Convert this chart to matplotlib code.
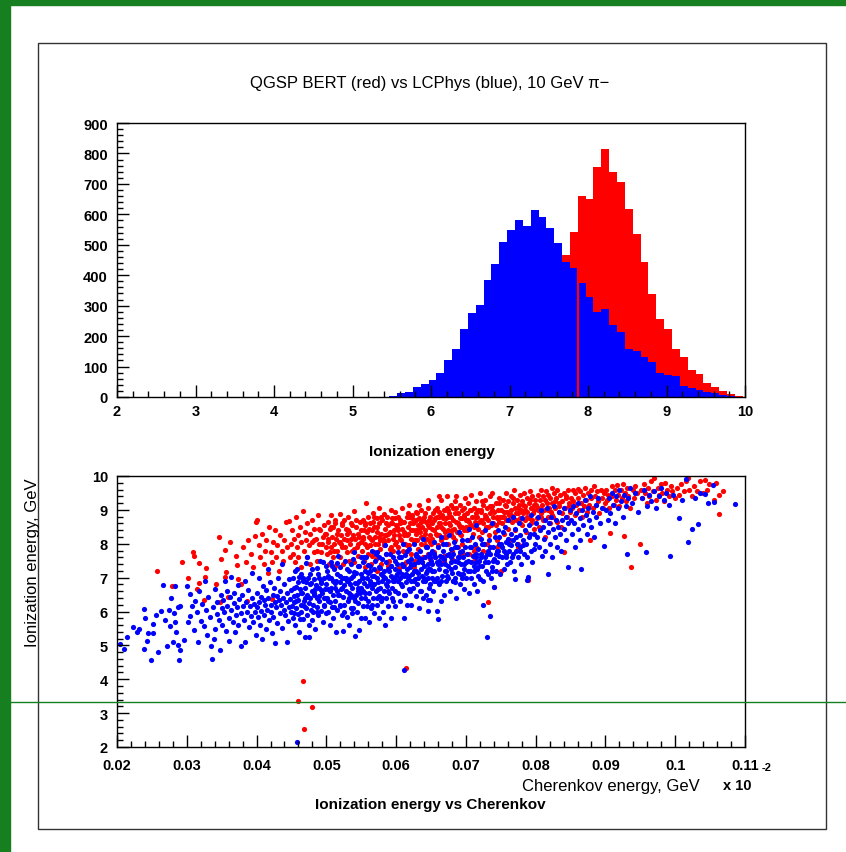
import numpy as np
import matplotlib
matplotlib.use('Agg')
import matplotlib.pyplot as plt
from matplotlib.ticker import MultipleLocator
from matplotlib.patches import Rectangle
from matplotlib.lines import Line2D

plt.rcParams['font.family'] = ['Liberation Sans', 'DejaVu Sans']

# ---- histogram data (bin width 0.1, first edge below) ----
bin_start = 1.97
bin_width = 0.1

blue_counts = [
    0, 0, 0, 0, 0, 0, 0, 0, 0, 0,
    0, 1, 0, 0, 1, 0, 0, 0, 1, 0,
    0, 0, 1, 0, 0, 1, 0, 1, 0, 1,
    0, 1, 0, 0, 1, 2, 13, 17, 32, 43,
    57, 78, 121, 159, 222, 277, 303, 384, 437, 508,
    547, 581, 563, 614, 592, 556, 506, 442, 423, 373,
    327, 279, 288, 238, 215, 158, 150, 132, 114, 78,
    73, 69, 36, 28, 23, 18, 12, 7, 3, 0,
]
red_counts = [
    0, 0, 0, 1, 0, 1, 1, 0, 1, 0,
    0, 0, 0, 0, 0, 0, 0, 0, 0, 0,
    0, 0, 0, 0, 0, 0, 0, 0, 0, 0,
    0, 0, 0, 0, 0, 0, 0, 0, 0, 0,
    0, 1, 2, 3, 5, 9, 14, 22, 34, 50,
    72, 100, 140, 190, 250, 320, 400, 466, 541, 661,
    651, 754, 815, 740, 705, 618, 535, 442, 338, 256,
    223, 158, 132, 90, 76, 46, 32, 20, 10, 4,
]
# stray red edge line seen inside the blue area
red_edge_x = 7.87
red_edge_top = 423

# ---- scatter data: pairs (cherenkov x 1e-4, ionization x 1e-2) ----
red_xy = [
    258, 721, 279, 676, 293, 747,
    302, 698, 309, 777, 310, 764, 318, 744, 315, 665, 318, 684, 324, 633, 326, 702,
    327, 728, 346, 820, 342, 682, 349, 755,
    355, 782, 355, 702, 356, 717, 362, 806, 348, 628, 359, 643, 371, 764, 372, 737,
    374, 697, 399, 863, 398, 824, 380, 790, 385, 745, 388, 812, 392, 770, 395, 730,
    386, 630, 378, 680,
    400, 870, 403, 795, 405, 760, 408, 830, 410, 740, 412, 780, 414, 810, 416, 715,
    418, 850, 420, 775, 422, 745, 424, 805, 426, 840, 428, 760, 430, 795, 432, 720,
    434, 825, 436, 780, 438, 750, 440, 810, 442, 865, 444, 790, 446, 868, 448, 760,
    422, 637,
    450, 800, 451, 840, 452, 770, 454, 815, 455, 745, 456, 880, 458, 790, 459, 825,
    460, 760, 462, 850, 463, 805, 464, 730, 466, 697, 467, 896, 468, 780, 469, 835,
    471, 810, 472, 760, 473, 860, 475, 795, 476, 740, 477, 830, 479, 805, 480, 870,
    482, 775, 483, 845, 485, 815, 486, 750, 488, 885, 489, 800, 491, 840, 493, 775,
    495, 820, 497, 855, 499, 790,
    500, 830, 501, 770, 502, 865, 503, 805, 504, 740, 505, 845, 506, 790, 507, 886,
    508, 820, 509, 760, 510, 850, 511, 800, 512, 735, 513, 870, 514, 815, 515, 780,
    517, 840, 518, 805, 519, 889, 520, 760, 521, 825, 522, 855, 523, 790, 524, 740,
    525, 870, 526, 815, 528, 845, 529, 775, 530, 810, 531, 880, 532, 750, 533, 835,
    534, 800, 536, 860, 537, 780, 538, 825, 539, 745, 540, 896, 541, 815, 542, 850,
    544, 790, 545, 830, 546, 765, 548, 865, 549, 805,
    550, 840, 551, 780, 552, 870, 553, 815, 554, 750, 555, 855, 556, 800, 557, 919,
    558, 835, 559, 770, 560, 880, 561, 820, 562, 795, 563, 860, 564, 740, 565, 840,
    566, 810, 567, 890, 568, 775, 569, 850, 570, 820, 571, 755, 572, 875, 573, 835,
    574, 800, 575, 905, 576, 860, 577, 785, 578, 830, 579, 740, 580, 870, 581, 815,
    582, 889, 583, 795, 584, 845, 585, 770, 586, 825, 587, 880, 588, 810, 589, 855,
    590, 750, 591, 835, 592, 790, 593, 900, 594, 860, 595, 815, 596, 780, 597, 840,
    598, 875, 599, 894, 556, 730, 572, 720, 588, 735, 600, 805, 565, 763,
    601, 850, 602, 790, 603, 880, 604, 825, 605, 760, 606, 870, 607, 810, 608, 845,
    609, 905, 610, 780, 611, 835, 612, 865, 613, 800, 614, 745, 615, 880, 616, 825,
    617, 850, 618, 795, 619, 914, 620, 860, 621, 815, 622, 770, 623, 885, 624, 840,
    625, 805, 626, 865, 627, 750, 628, 830, 629, 895, 630, 810, 631, 855, 632, 785,
    633, 875, 634, 835, 635, 800, 636, 900, 637, 850, 638, 760, 639, 820, 640, 880,
    641, 840, 642, 795, 643, 865, 644, 815, 645, 905, 646, 770, 647, 850, 648, 825,
    649, 880, 650, 800, 612, 738, 625, 730, 637, 745, 648, 755, 604, 727, 617, 890,
    628, 870, 633, 915, 642, 890, 646, 930,
    651, 860, 652, 815, 653, 890, 654, 840, 655, 775, 656, 875, 657, 830, 658, 905,
    659, 850, 660, 795, 661, 880, 662, 825, 663, 860, 664, 930, 665, 810, 666, 885,
    667, 845, 668, 765, 669, 900, 670, 860, 671, 820, 672, 875, 673, 940, 674, 840,
    675, 800, 676, 890, 677, 855, 678, 915, 679, 830, 680, 780, 681, 870, 682, 905,
    683, 845, 684, 810, 685, 925, 686, 865, 687, 835, 688, 890, 689, 790, 690, 855,
    691, 915, 692, 875, 693, 825, 694, 900, 695, 850, 696, 770, 697, 885, 698, 840,
    699, 935, 700, 870, 656, 760, 668, 748, 680, 755, 692, 770, 662, 940, 686, 940,
    674, 900, 659, 880, 695, 800, 670, 900,
    701, 890, 702, 840, 703, 920, 704, 865, 705, 810, 706, 900, 707, 855, 708, 945,
    709, 880, 710, 830, 711, 748, 712, 905, 713, 865, 714, 790, 715, 925, 716, 880,
    717, 845, 718, 900, 719, 820, 720, 950, 721, 870, 722, 895, 723, 835, 724, 915,
    725, 860, 726, 800, 727, 885, 728, 930, 729, 850, 730, 905, 731, 627, 732, 870,
    733, 825, 734, 940, 735, 890, 736, 855, 737, 949, 738, 910, 739, 860, 740, 671,
    741, 895, 742, 835, 743, 920, 744, 875, 745, 810, 746, 900, 747, 865, 748, 935,
    749, 880, 750, 719, 712, 780, 725, 780, 744, 790, 705, 770, 730, 800,
    751, 900, 752, 860, 753, 930, 754, 880, 755, 830, 756, 915, 757, 870, 758, 950,
    759, 895, 760, 845, 761, 925, 762, 885, 763, 810, 764, 940, 765, 900, 766, 865,
    767, 920, 768, 880, 769, 960, 770, 840, 771, 905, 772, 870, 773, 930, 774, 890,
    775, 800, 776, 915, 777, 875, 778, 945, 779, 900, 780, 855, 781, 925, 782, 890,
    783, 950, 784, 870, 785, 910, 786, 835, 787, 935, 788, 895, 789, 692, 790, 920,
    791, 875, 792, 955, 793, 905, 794, 860, 795, 940, 796, 890, 797, 915, 798, 845,
    799, 930, 775, 790,
    801, 915, 802, 875, 803, 945, 804, 900, 805, 850, 806, 930, 807, 890, 808, 960,
    809, 915, 810, 870, 811, 940, 812, 900, 813, 820, 815, 955, 816, 920, 817, 880,
    818, 945, 819, 905, 820, 860, 821, 935, 822, 895, 823, 965, 824, 920, 825, 880,
    826, 950, 828, 905, 829, 935, 830, 865, 831, 960, 833, 920, 834, 895, 835, 945,
    836, 850, 838, 925, 840, 776, 841, 950, 842, 905, 844, 940, 845, 880, 847, 960,
    848, 920, 849, 895,
    851, 935, 852, 905, 853, 960, 854, 925, 856, 885, 857, 950, 858, 915, 860, 962,
    861, 935, 862, 900, 864, 955, 865, 920, 866, 880, 868, 945, 869, 910, 871, 965,
    872, 930, 873, 895, 875, 950, 876, 915, 878, 812, 879, 960, 880, 935, 882, 905,
    883, 970, 885, 940, 886, 915, 888, 955, 890, 925, 891, 890, 893, 960, 895, 935,
    896, 905, 898, 950, 899, 920,
    901, 960, 902, 930, 904, 945, 905, 905, 907, 833, 909, 970, 910, 940, 912, 915,
    913, 960, 915, 930, 917, 974, 918, 945, 920, 910, 922, 960, 924, 935, 925, 975,
    927, 822, 928, 950, 930, 925, 931, 965, 933, 940, 935, 905, 937, 732, 939, 960,
    941, 935, 943, 970, 945, 950, 949, 798,
    951, 960, 953, 935, 955, 975, 957, 950, 959, 920, 961, 965, 963, 940, 966, 985,
    968, 955, 970, 994, 972, 930, 975, 965, 977, 945, 979, 975, 981, 950, 984, 925,
    986, 979, 988, 960, 991, 940, 994, 970, 996, 955, 999, 935,
    1002, 965, 1005, 945, 1008, 975, 1012, 955, 1015, 985, 1019, 993, 1020, 960,
    1024, 940, 1027, 970, 1031, 955, 1036, 985, 1040, 950, 1043, 988, 1046, 960,
    1049, 975, 1063, 887, 1063, 943, 1068, 956, 1058, 980, 1055, 930,
    467, 396, 459, 335, 480, 318, 468, 253, 614, 432,
]
# extra points in the dense red core
red_core_xy = [
    482, 810, 486, 780, 490, 845, 494, 800, 498, 830,
    503, 815, 507, 850, 511, 780, 515, 830, 519, 805, 523, 860, 527, 790, 531, 840,
    535, 815, 539, 785, 543, 870, 547, 820, 505, 775, 513, 860, 521, 800, 529, 830,
    537, 855, 545, 800,
    552, 820, 555, 860, 558, 790, 561, 845, 564, 815, 567, 865, 570, 800, 573, 850,
    576, 820, 579, 880, 582, 805, 585, 860, 588, 830, 591, 785, 594, 875, 597, 825,
    600, 855, 554, 840, 562, 795, 569, 880, 577, 810, 584, 825, 592, 860, 599, 800,
    603, 840, 606, 815, 609, 865, 612, 825, 615, 795, 618, 880, 621, 840, 624, 860,
    627, 810, 630, 890, 633, 845, 636, 820, 639, 870, 642, 830, 645, 855, 648, 805,
    605, 860, 611, 800, 617, 830, 623, 875, 629, 840, 635, 865, 641, 810, 647, 870,
    652, 845, 655, 870, 658, 825, 661, 895, 664, 850, 667, 875, 670, 835, 673, 905,
    676, 860, 679, 880, 682, 820, 685, 890, 688, 860, 691, 830, 694, 875, 697, 905,
    700, 850, 656, 900, 662, 860, 668, 820, 674, 880, 680, 840, 686, 905, 692, 850,
    698, 880,
    703, 870, 707, 900, 711, 850, 715, 890, 719, 865, 723, 925, 727, 875, 731, 850,
    735, 910, 739, 880, 743, 855, 747, 920, 705, 850, 713, 880, 721, 900, 729, 880,
    737, 900, 745, 880,
    752, 880, 757, 910, 762, 870, 767, 935, 772, 890, 777, 860, 782, 915, 787, 880,
    792, 930, 797, 900, 755, 895, 765, 885, 775, 905, 785, 900, 795, 870,
    803, 905, 808, 880, 813, 930, 818, 900, 823, 885, 828, 925, 833, 910, 838, 890,
    843, 935, 848, 910,
]

blue_xy = [
    210, 490, 214, 526, 223, 554, 228, 539, 238, 608, 240, 580, 238, 488, 245, 536,
    249, 457, 231, 547, 205, 505, 243, 512,
    251, 563, 252, 536, 259, 480, 266, 678, 269, 575, 271, 497, 274, 603, 276, 558,
    280, 509, 281, 596, 283, 675, 283, 570, 284, 539, 288, 500, 288, 613, 289, 457,
    290, 487, 291, 617, 296, 517, 263, 602, 256, 590, 278, 640,
    301, 676, 302, 568, 304, 652, 305, 588, 307, 617, 310, 545, 312, 630, 314, 598,
    316, 509, 318, 660, 320, 571, 322, 621, 324, 556, 326, 690, 327, 605, 329, 530,
    331, 642, 333, 583, 335, 497, 336, 460, 338, 612, 340, 665, 341, 548, 343, 594,
    344, 628, 346, 575, 347, 485, 349, 650, 350, 610, 339, 520,
    351, 560, 352, 633, 354, 598, 355, 690, 356, 542, 357, 617, 358, 660, 360, 580,
    361, 512, 362, 644, 363, 603, 364, 702, 366, 570, 367, 625, 368, 655, 369, 540,
    370, 590, 372, 612, 373, 678, 374, 560, 375, 636, 377, 498, 378, 595, 379, 648,
    380, 617, 382, 575, 383, 690, 384, 510, 385, 628, 386, 600, 388, 663, 389, 553,
    390, 615, 392, 587, 393, 640, 394, 715, 395, 568, 397, 622, 398, 600, 399, 530,
    400, 612, 401, 655, 402, 583, 403, 700, 404, 628, 405, 560, 406, 642, 407, 601,
    408, 520, 409, 675, 410, 590, 411, 633, 412, 618, 413, 548, 414, 662, 415, 605,
    416, 725, 417, 640, 418, 575, 419, 688, 420, 620, 421, 600, 422, 537, 423, 650,
    424, 585, 425, 670, 426, 627, 427, 508, 428, 612, 429, 645, 430, 565, 431, 700,
    432, 633, 433, 596, 434, 660, 435, 618, 436, 740, 437, 552, 438, 640, 439, 605,
    440, 680, 441, 590, 442, 628, 443, 511, 444, 655, 445, 572, 446, 612, 447, 695,
    448, 638, 449, 600,
    450, 662, 451, 615, 452, 700, 452, 580, 453, 645, 454, 628, 455, 720, 455, 560,
    456, 673, 457, 610, 458, 650, 459, 592, 460, 688, 460, 635, 461, 540, 462, 667,
    463, 620, 464, 710, 464, 598, 465, 655, 466, 578, 467, 690, 468, 632, 469, 525,
    470, 668, 471, 610, 471, 742, 472, 648, 473, 590, 474, 700, 475, 625, 475, 560,
    476, 680, 477, 640, 478, 603, 479, 725, 480, 660, 480, 575, 481, 620, 482, 695,
    483, 650, 484, 547, 485, 678, 486, 612, 487, 640, 488, 710, 488, 590, 489, 668,
    490, 630, 491, 750, 492, 602, 493, 685, 494, 655, 495, 570, 496, 640, 497, 700,
    497, 615, 498, 665, 499, 595, 475, 525,
    500, 680, 501, 640, 501, 720, 502, 598, 503, 665, 504, 700, 505, 628, 505, 560,
    506, 745, 507, 670, 508, 612, 509, 690, 510, 650, 510, 580, 511, 725, 512, 632,
    513, 685, 514, 540, 515, 660, 516, 710, 516, 605, 517, 765, 518, 648, 519, 688,
    520, 620, 520, 730, 521, 665, 522, 590, 523, 700, 524, 642, 524, 543, 525, 678,
    526, 618, 527, 750, 528, 660, 528, 700, 529, 585, 530, 690, 531, 632, 532, 720,
    533, 655, 533, 560, 534, 680, 535, 610, 536, 740, 537, 668, 537, 595, 538, 705,
    539, 640, 540, 775, 541, 685, 541, 528, 542, 650, 543, 715, 544, 600, 545, 670,
    545, 735, 546, 625, 547, 690, 547, 544, 548, 655, 549, 710, 549, 580, 550, 640,
    538, 610,
    551, 700, 552, 660, 552, 745, 553, 615, 554, 685, 555, 720, 555, 640, 556, 580,
    557, 760, 558, 675, 558, 700, 559, 630, 560, 715, 561, 655, 561, 568, 562, 735,
    563, 690, 564, 610, 565, 670, 565, 780, 566, 705, 567, 640, 568, 725, 569, 595,
    569, 680, 570, 750, 571, 660, 572, 700, 572, 620, 573, 775, 574, 688, 575, 645,
    576, 730, 576, 580, 577, 670, 578, 710, 579, 630, 580, 755, 580, 690, 581, 600,
    582, 720, 583, 660, 584, 795, 584, 700, 585, 640, 586, 745, 587, 675, 588, 615,
    588, 725, 589, 690, 590, 655, 591, 770, 592, 705, 592, 580, 593, 735, 594, 668,
    595, 700, 596, 630, 596, 760, 597, 690, 598, 617, 598, 725, 599, 660, 600, 705,
    584, 560,
    601, 740, 602, 690, 603, 775, 603, 655, 604, 720, 605, 700, 606, 630, 607, 760,
    608, 710, 609, 675, 610, 800, 610, 735, 611, 650, 612, 705, 613, 768, 614, 688,
    615, 725, 616, 620, 617, 750, 617, 700, 618, 665, 619, 785, 620, 730, 621, 690,
    622, 619, 622, 755, 623, 712, 624, 670, 625, 740, 626, 800, 627, 695, 628, 645,
    629, 765, 629, 720, 630, 680, 631, 745, 632, 700, 633, 610, 634, 780, 635, 725,
    636, 660, 636, 755, 637, 705, 638, 640, 639, 815, 640, 735, 641, 690, 642, 760,
    643, 715, 643, 650, 644, 790, 645, 740, 646, 700, 647, 670, 647, 770, 648, 725,
    649, 635, 650, 750, 645, 601, 612, 580,
    651, 700, 652, 780, 652, 740, 653, 660, 654, 805, 655, 720, 656, 760, 657, 690,
    658, 745, 659, 601, 660, 578, 660, 790, 661, 725, 662, 680, 663, 765, 664, 820,
    665, 740, 666, 705, 667, 780, 668, 650, 669, 755, 670, 720, 671, 690, 672, 800,
    673, 768, 674, 735, 675, 700, 676, 825, 677, 660, 678, 785, 679, 745, 680, 715,
    681, 770, 682, 690, 683, 805, 684, 750, 685, 730, 686, 640, 687, 790, 688, 760,
    689, 715, 690, 835, 691, 680, 692, 775, 693, 740, 694, 700, 695, 810, 696, 760,
    697, 725, 698, 665, 699, 790, 685, 688, 665, 632, 645, 634, 700, 745,
    701, 810, 702, 770, 703, 720, 704, 845, 706, 790, 707, 745, 708, 700, 709, 820,
    710, 765, 711, 735, 712, 680, 713, 800, 714, 760, 715, 855, 716, 725, 717, 785,
    718, 705, 719, 750, 721, 815, 722, 770, 723, 735, 724, 690, 726, 800, 727, 760,
    728, 840, 729, 720, 731, 780, 732, 745, 733, 810, 735, 770, 736, 700, 737, 730,
    738, 860, 739, 790, 741, 755, 742, 820, 743, 720, 744, 780, 745, 745, 746, 840,
    747, 800, 748, 765, 749, 710, 705, 656, 720, 696, 725, 620, 730, 525, 734, 588,
    740, 672, 716, 660,
    751, 800, 752, 760, 753, 835, 754, 780, 755, 725, 756, 850, 757, 805, 758, 770,
    759, 740, 760, 870, 761, 815, 762, 780, 763, 745, 764, 830, 765, 795, 766, 760,
    767, 880, 768, 810, 769, 720, 771, 845, 772, 780, 773, 800, 774, 760, 776, 860,
    777, 825, 778, 790, 779, 740, 781, 875, 782, 810, 783, 770, 785, 840, 786, 800,
    787, 692, 789, 703, 790, 855, 791, 820, 793, 780, 794, 885, 795, 745, 797, 830,
    799, 800, 770, 695,
    801, 860, 802, 820, 804, 880, 805, 790, 806, 840, 808, 900, 809, 765, 810, 850,
    812, 815, 813, 870, 814, 780, 816, 905, 817, 835, 818, 710, 819, 860, 821, 800,
    822, 880, 823, 760, 825, 845, 826, 910, 828, 820, 829, 870, 831, 790, 832, 850,
    834, 895, 835, 830, 837, 780, 838, 870, 840, 905, 841, 845, 843, 810, 844, 880,
    846, 860, 847, 730, 849, 900,
    851, 870, 852, 830, 854, 910, 855, 860, 857, 790, 858, 890, 860, 845, 861, 920,
    863, 875, 864, 810, 865, 725, 867, 900, 868, 855, 870, 930, 872, 885, 873, 830,
    875, 905, 877, 870, 878, 940, 880, 850, 882, 895, 884, 820, 886, 915, 887, 880,
    889, 935, 892, 860, 895, 905, 898, 792,
    901, 900, 903, 870, 905, 935, 907, 890, 909, 950, 911, 915, 913, 860, 915, 940,
    918, 905, 920, 960, 922, 925, 925, 880, 927, 945, 929, 910, 931, 770, 933, 935,
    935, 965, 938, 920, 942, 950, 947, 895,
    952, 935, 955, 960, 958, 777, 960, 910, 963, 945, 966, 925, 970, 955, 973, 905,
    977, 940, 980, 965, 984, 930, 987, 950, 991, 915, 993, 763, 997, 945,
    1005, 875, 1016, 990, 1019, 805, 1024, 843, 1032, 858, 1036, 950, 1043, 947,
    1010, 930, 1028, 935, 1047, 920, 1054, 973, 1055, 924, 1085, 916,
    458, 214, 612, 427,
]
# extra points in the dense blue core
blue_core_xy = [
    453, 668, 457, 631, 461, 702, 464, 655, 468, 615, 471, 688, 474, 642, 477, 710,
    481, 600, 484, 665, 487, 728, 490, 645, 493, 690, 496, 620, 499, 735, 454, 595,
    458, 725, 462, 578, 466, 700, 470, 640, 473, 762, 478, 685, 482, 655, 486, 598,
    489, 700, 492, 662, 495, 745, 498, 640,
    502, 705, 505, 660, 508, 735, 511, 612, 514, 690, 517, 648, 520, 705, 523, 670,
    526, 598, 529, 725, 532, 640, 535, 700, 538, 755, 541, 630, 544, 685, 547, 735,
    550, 668, 503, 632, 507, 700, 512, 668, 516, 742, 519, 615, 525, 700, 531, 690,
    536, 650, 540, 718, 546, 660, 549, 760,
    553, 700, 556, 655, 559, 738, 562, 680, 565, 620, 568, 705, 571, 770, 574, 665,
    577, 728, 580, 640, 583, 700, 586, 770, 589, 660, 592, 735, 595, 690, 598, 750,
    554, 760, 558, 615, 563, 720, 567, 680, 572, 640, 576, 760, 581, 705, 585, 680,
    590, 720, 594, 640, 597, 700,
    601, 710, 604, 760, 607, 680, 610, 735, 613, 650, 616, 780, 619, 705, 622, 740,
    625, 690, 628, 770, 631, 715, 634, 660, 637, 745, 640, 700, 643, 790, 646, 725,
    649, 680, 603, 690, 608, 740, 614, 710, 620, 660, 626, 720, 632, 760, 638, 690,
    644, 720, 648, 760,
    652, 720, 655, 770, 658, 700, 661, 750, 664, 690, 667, 800, 670, 740, 673, 705,
    676, 770, 679, 725, 682, 690, 685, 790, 688, 745, 691, 710, 694, 780, 697, 740,
    700, 700, 654, 690, 660, 740, 666, 760, 672, 720, 678, 760, 684, 700, 690, 760,
    696, 710,
    703, 750, 707, 790, 711, 720, 715, 770, 719, 735, 723, 800, 727, 745, 731, 710,
    735, 790, 739, 750, 743, 770, 747, 820, 706, 720, 714, 745, 722, 760, 730, 770,
    738, 720, 746, 780,
    752, 790, 757, 760, 762, 800, 767, 770, 772, 820, 777, 780, 782, 795, 787, 760,
    792, 830, 797, 785,
]

hist_xticks = [2, 3, 4, 5, 6, 7, 8, 9, 10]
hist_yticks = [0, 100, 200, 300, 400, 500, 600, 700, 800, 900]
sc_xticks = [0.02, 0.03, 0.04, 0.05, 0.06, 0.07, 0.08, 0.09, 0.10, 0.11]
sc_xlabels = ['0.02', '0.03', '0.04', '0.05', '0.06', '0.07', '0.08', '0.09', '0.1', '0.11']
sc_yticks = [2, 3, 4, 5, 6, 7, 8, 9, 10]

RED = '#ff0000'
BLUE = '#0000ff'
GREEN = '#168021'

W, H = 846, 853


def fx(px):
    return px / W


def fy(py):
    return 1 - py / H


def style_axis(ax, tick_pad_x, tick_pad_y):
    for sp in ax.spines.values():
        sp.set_linewidth(1.0)
        sp.set_color('black')
    ax.tick_params(which='both', direction='in', top=False, right=False,
                   color='black', width=1.0)
    ax.tick_params(which='major', length=8.5)
    ax.tick_params(which='minor', length=4.2)
    ax.tick_params(axis='x', pad=tick_pad_x)
    ax.tick_params(axis='y', pad=tick_pad_y)
    for lab in ax.get_xticklabels() + ax.get_yticklabels():
        lab.set_fontweight('bold')
        lab.set_fontsize(10.5)


fig = plt.figure(figsize=(W / 100, H / 100), dpi=100)
fig.patch.set_facecolor('white')

# green strips and frame
fig.patches.append(Rectangle((0, fy(6)), 1, 6 / H, transform=fig.transFigure,
                             color=GREEN, zorder=0))
fig.patches.append(Rectangle((0, 0), fx(10), 1, transform=fig.transFigure,
                             color=GREEN, zorder=0))
fig.patches.append(Rectangle((fx(38), fy(830)), fx(826) - fx(38), fy(44) - fy(830),
                             transform=fig.transFigure, fill=False,
                             edgecolor='#333333', linewidth=1.0, zorder=1))

# ---- top: histogram ----
edges = bin_start + bin_width * np.arange(len(blue_counts) + 1)
ax1 = fig.add_axes([fx(117), fy(398), fx(745) - fx(117), fy(124) - fy(398)])
ax1.stairs(red_counts, edges, fill=True, color=RED, linewidth=0)
ax1.stairs(blue_counts, edges, fill=True, color=BLUE, linewidth=0)
ax1.vlines(red_edge_x, 0, red_edge_top, color=RED, linewidth=1.6)
ax1.set_xlim(2, 10)
ax1.set_ylim(0, 900)
ax1.set_xticks(hist_xticks)
ax1.set_yticks(hist_yticks)
ax1.xaxis.set_minor_locator(MultipleLocator(0.2))
ax1.yaxis.set_minor_locator(MultipleLocator(20))
style_axis(ax1, 5, 6.5)

# ---- bottom: scatter ----
r = np.array(red_xy + red_core_xy).reshape(-1, 2)
b = np.array(blue_xy + blue_core_xy).reshape(-1, 2)
ax2 = fig.add_axes([fx(117), fy(748), fx(745) - fx(117), fy(477) - fy(748)])
ax2.scatter(r[:, 0] * 1e-4, r[:, 1] * 1e-2, s=14, color=RED, linewidths=0)
ax2.scatter(b[:, 0] * 1e-4, b[:, 1] * 1e-2, s=14, color=BLUE, linewidths=0)
ax2.set_xlim(0.02, 0.11)
ax2.set_ylim(2, 10)
ax2.set_xticks(sc_xticks)
ax2.set_xticklabels(sc_xlabels)
ax2.set_yticks(sc_yticks)
ax2.xaxis.set_minor_locator(MultipleLocator(0.002))
ax2.yaxis.set_minor_locator(MultipleLocator(0.2))
style_axis(ax2, 8, 6.5)

# ---- texts ----
fig.text(fx(430), fy(84), 'QGSP BERT (red) vs LCPhys (blue), 10 GeV \u03c0\u2212',
         ha='center', va='center', fontsize=12)
fig.text(fx(432), fy(452), 'Ionization energy', ha='center', va='center',
         fontsize=11, fontweight='bold')
fig.text(fx(700), fy(787), 'Cherenkov energy, GeV', ha='right', va='center',
         fontsize=12)
fig.text(fx(723), fy(786), 'x 10', ha='left', va='center', fontsize=10.5,
         fontweight='bold')
fig.text(fx(762), fy(768), '-2', ha='left', va='center', fontsize=8,
         fontweight='bold')
fig.text(fx(430), fy(805), 'Ionization energy vs Cherenkov', ha='center',
         va='center', fontsize=11, fontweight='bold')
fig.text(fx(33), fy(563), 'Ionization energy, GeV', ha='center', va='center',
         rotation=90, fontsize=12)

# thin green line crossing the whole picture
fig.lines.append(Line2D([0, 1], [fy(703), fy(703)], transform=fig.transFigure,
                        color=GREEN, linewidth=1.0, zorder=10))

fig.savefig('out.png', dpi=100)
